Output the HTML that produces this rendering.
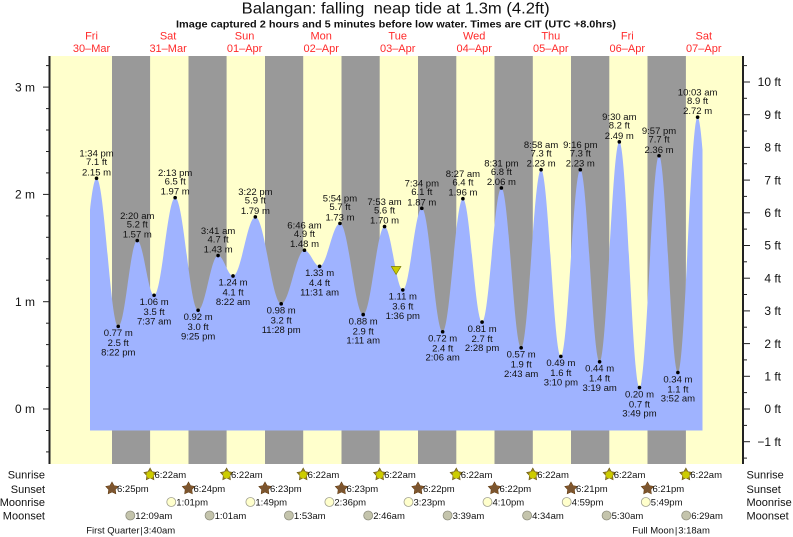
<!DOCTYPE html>
<html><head><meta charset="utf-8"><style>
html,body{margin:0;padding:0;background:#fff;}
svg{display:block;font-family:"Liberation Sans",Arial,sans-serif;}
.tl{font-size:9.5px;fill:#111;text-anchor:middle;}
.ax{font-size:12px;fill:#111;}
.ev{font-size:9.5px;fill:#111;}
.rl{font-size:11px;fill:#111;}
.day{font-size:11px;fill:#ff2a2a;text-anchor:middle;}
</style></head><body>
<svg width="793" height="537" viewBox="0 0 793 537" xmlns="http://www.w3.org/2000/svg">
<defs>
<g id="star"><polygon points="0,-6.5 2.06,-2.83 6.18,-2.01 3.33,1.08 3.82,5.26 0,3.5 -3.82,5.26 -3.33,1.08 -6.18,-2.01 -2.06,-2.83"/></g>
</defs>
<rect width="793" height="537" fill="#fff"/>
<text x="395.7" y="13.5" text-anchor="middle" style="font-size:16px;fill:#111;white-space:pre" textLength="308" lengthAdjust="spacingAndGlyphs">Balangan: falling  neap tide at 1.3m (4.2ft)</text>
<text x="396" y="27.5" text-anchor="middle" style="font-size:10px;font-weight:bold;fill:#111" textLength="440" lengthAdjust="spacingAndGlyphs">Image captured 2 hours and 5 minutes before low water. Times are CIT (UTC +8.0hrs)</text>

<text class="day" x="91.5" y="39.5">Fri</text><text class="day" x="91.5" y="52">30–Mar</text>
<text class="day" x="168.1" y="39.5">Sat</text><text class="day" x="168.1" y="52">31–Mar</text>
<text class="day" x="244.6" y="39.5">Sun</text><text class="day" x="244.6" y="52">01–Apr</text>
<text class="day" x="321.2" y="39.5">Mon</text><text class="day" x="321.2" y="52">02–Apr</text>
<text class="day" x="397.7" y="39.5">Tue</text><text class="day" x="397.7" y="52">03–Apr</text>
<text class="day" x="474.2" y="39.5">Wed</text><text class="day" x="474.2" y="52">04–Apr</text>
<text class="day" x="550.8" y="39.5">Thu</text><text class="day" x="550.8" y="52">05–Apr</text>
<text class="day" x="627.3" y="39.5">Fri</text><text class="day" x="627.3" y="52">06–Apr</text>
<text class="day" x="703.8" y="39.5">Sat</text><text class="day" x="703.8" y="52">07–Apr</text>

<!-- plot background -->
<rect x="50" y="56" width="693" height="408" fill="#ffffcc"/>
<g fill="#999999">
<rect x="112.0" y="56" width="38.1" height="408"/>
<rect x="188.5" y="56" width="38.1" height="408"/>
<rect x="265.0" y="56" width="38.2" height="408"/>
<rect x="341.5" y="56" width="38.2" height="408"/>
<rect x="418.0" y="56" width="38.3" height="408"/>
<rect x="494.5" y="56" width="38.3" height="408"/>
<rect x="571.0" y="56" width="38.3" height="408"/>
<rect x="647.5" y="56" width="38.4" height="408"/>
</g>

<!-- tide fill -->
<path fill="#9fb3ff" d="M90,430.5 L90,210 C92.17,190.6 94.33,178.3 96.53,178.3
C104.41,178.3 110.34,326.38 118.22,326.38
C125.14,326.38 130.33,240.54 137.25,240.54
C143.37,240.54 147.98,295.26 154.10,295.26
C161.75,295.26 167.49,197.62 175.14,197.62
C183.48,197.62 189.76,310.28 198.10,310.28
C205.36,310.28 210.83,255.56 218.09,255.56
C223.52,255.56 227.59,275.95 233.02,275.95
C241.13,275.95 247.24,216.93 255.35,216.93
C264.74,216.93 271.79,303.85 281.18,303.85
C289.64,303.85 296.00,250.20 304.46,250.20
C309.97,250.20 314.10,266.29 319.61,266.29
C327.01,266.29 332.56,223.37 339.96,223.37
C348.40,223.37 354.75,314.58 363.19,314.58
C370.95,314.58 376.79,226.59 384.55,226.59
C391.18,226.59 396.16,289.90 402.79,289.90
C409.70,289.90 414.90,208.35 421.81,208.35
C429.38,208.35 435.08,331.74 442.65,331.74
C450.01,331.74 455.54,198.69 462.90,198.69
C469.87,198.69 475.11,322.09 482.08,322.09
C489.09,322.09 494.37,187.96 501.38,187.96
C508.56,187.96 513.97,347.84 521.15,347.84
C528.39,347.84 533.84,169.72 541.08,169.72
C548.26,169.72 553.67,356.42 560.85,356.42
C567.92,356.42 573.24,169.72 580.31,169.72
C587.32,169.72 592.59,361.79 599.60,361.79
C606.77,361.79 612.15,141.82 619.32,141.82
C626.64,141.82 632.14,387.54 639.46,387.54
C646.57,387.54 651.91,155.77 659.02,155.77
C665.88,155.77 671.03,372.52 677.89,372.52
C685.06,372.52 690.44,117.14 697.61,117.14
C699.2,117.14 700.9,130.2 702.5,150
L702.5,430.5 Z"/>

<!-- current marker -->
<polygon points="391.3,266.5 400.9,266.5 396.1,274.5" fill="#cccc00" stroke="#7a7a00" stroke-width="0.7"/>

<!-- high labels -->
<g class="tl">
<g transform="translate(96.53,178.3)"><circle r="1.8" fill="#000"/><text y="-21.7">1:34 pm</text><text y="-13.2">7.1 ft</text><text y="-3">2.15 m</text></g>
<g transform="translate(137.25,240.54)"><circle r="1.8" fill="#000"/><text y="-21.7">2:20 am</text><text y="-13.2">5.2 ft</text><text y="-3">1.57 m</text></g>
<g transform="translate(175.14,197.62)"><circle r="1.8" fill="#000"/><text y="-21.7">2:13 pm</text><text y="-13.2">6.5 ft</text><text y="-3">1.97 m</text></g>
<g transform="translate(218.09,255.56)"><circle r="1.8" fill="#000"/><text y="-21.7">3:41 am</text><text y="-13.2">4.7 ft</text><text y="-3">1.43 m</text></g>
<g transform="translate(255.35,216.93)"><circle r="1.8" fill="#000"/><text y="-21.7">3:22 pm</text><text y="-13.2">5.9 ft</text><text y="-3">1.79 m</text></g>
<g transform="translate(304.46,250.20)"><circle r="1.8" fill="#000"/><text y="-21.7">6:46 am</text><text y="-13.2">4.9 ft</text><text y="-3">1.48 m</text></g>
<g transform="translate(339.96,223.37)"><circle r="1.8" fill="#000"/><text y="-21.7">5:54 pm</text><text y="-13.2">5.7 ft</text><text y="-3">1.73 m</text></g>
<g transform="translate(384.55,226.59)"><circle r="1.8" fill="#000"/><text y="-21.7">7:53 am</text><text y="-13.2">5.6 ft</text><text y="-3">1.70 m</text></g>
<g transform="translate(421.81,208.35)"><circle r="1.8" fill="#000"/><text y="-21.7">7:34 pm</text><text y="-13.2">6.1 ft</text><text y="-3">1.87 m</text></g>
<g transform="translate(462.90,198.69)"><circle r="1.8" fill="#000"/><text y="-21.7">8:27 am</text><text y="-13.2">6.4 ft</text><text y="-3">1.96 m</text></g>
<g transform="translate(501.38,187.96)"><circle r="1.8" fill="#000"/><text y="-21.7">8:31 pm</text><text y="-13.2">6.8 ft</text><text y="-3">2.06 m</text></g>
<g transform="translate(541.08,169.72)"><circle r="1.8" fill="#000"/><text y="-21.7">8:58 am</text><text y="-13.2">7.3 ft</text><text y="-3">2.23 m</text></g>
<g transform="translate(580.31,169.72)"><circle r="1.8" fill="#000"/><text y="-21.7">9:16 pm</text><text y="-13.2">7.3 ft</text><text y="-3">2.23 m</text></g>
<g transform="translate(619.32,141.82)"><circle r="1.8" fill="#000"/><text y="-21.7">9:30 am</text><text y="-13.2">8.2 ft</text><text y="-3">2.49 m</text></g>
<g transform="translate(659.02,155.77)"><circle r="1.8" fill="#000"/><text y="-21.7">9:57 pm</text><text y="-13.2">7.7 ft</text><text y="-3">2.36 m</text></g>
<g transform="translate(697.61,117.14)"><circle r="1.8" fill="#000"/><text y="-21.7">10:03 am</text><text y="-13.2">8.9 ft</text><text y="-3">2.72 m</text></g>
</g>
<!-- low labels -->
<g class="tl">
<g transform="translate(118.22,326.38)"><circle r="1.8" fill="#000"/><text y="9.8">0.77 m</text><text y="19.8">2.5 ft</text><text y="29">8:22 pm</text></g>
<g transform="translate(154.10,295.26)"><circle r="1.8" fill="#000"/><text y="9.8">1.06 m</text><text y="19.8">3.5 ft</text><text y="29">7:37 am</text></g>
<g transform="translate(198.10,310.28)"><circle r="1.8" fill="#000"/><text y="9.8">0.92 m</text><text y="19.8">3.0 ft</text><text y="29">9:25 pm</text></g>
<g transform="translate(233.02,275.95)"><circle r="1.8" fill="#000"/><text y="9.8">1.24 m</text><text y="19.8">4.1 ft</text><text y="29">8:22 am</text></g>
<g transform="translate(281.18,303.85)"><circle r="1.8" fill="#000"/><text y="9.8">0.98 m</text><text y="19.8">3.2 ft</text><text y="29">11:28 pm</text></g>
<g transform="translate(319.61,266.29)"><circle r="1.8" fill="#000"/><text y="9.8">1.33 m</text><text y="19.8">4.4 ft</text><text y="29">11:31 am</text></g>
<g transform="translate(363.19,314.58)"><circle r="1.8" fill="#000"/><text y="9.8">0.88 m</text><text y="19.8">2.9 ft</text><text y="29">1:11 am</text></g>
<g transform="translate(402.79,289.90)"><circle r="1.8" fill="#000"/><text y="9.8">1.11 m</text><text y="19.8">3.6 ft</text><text y="29">1:36 pm</text></g>
<g transform="translate(442.65,331.74)"><circle r="1.8" fill="#000"/><text y="9.8">0.72 m</text><text y="19.8">2.4 ft</text><text y="29">2:06 am</text></g>
<g transform="translate(482.08,322.09)"><circle r="1.8" fill="#000"/><text y="9.8">0.81 m</text><text y="19.8">2.7 ft</text><text y="29">2:28 pm</text></g>
<g transform="translate(521.15,347.84)"><circle r="1.8" fill="#000"/><text y="9.8">0.57 m</text><text y="19.8">1.9 ft</text><text y="29">2:43 am</text></g>
<g transform="translate(560.85,356.42)"><circle r="1.8" fill="#000"/><text y="9.8">0.49 m</text><text y="19.8">1.6 ft</text><text y="29">3:10 pm</text></g>
<g transform="translate(599.60,361.79)"><circle r="1.8" fill="#000"/><text y="9.8">0.44 m</text><text y="19.8">1.4 ft</text><text y="29">3:19 am</text></g>
<g transform="translate(639.46,387.54)"><circle r="1.8" fill="#000"/><text y="9.8">0.20 m</text><text y="19.8">0.7 ft</text><text y="29">3:49 pm</text></g>
<g transform="translate(677.89,372.52)"><circle r="1.8" fill="#000"/><text y="9.8">0.34 m</text><text y="19.8">1.1 ft</text><text y="29">3:52 am</text></g>
</g>

<!-- axes -->
<line x1="49.5" y1="56" x2="49.5" y2="464" stroke="#222" stroke-width="2"/>
<line x1="743" y1="56" x2="743" y2="464" stroke="#222" stroke-width="2"/>
<g stroke="#222" stroke-width="1">
<line x1="46" x2="49" y1="451.9" y2="451.9"/><line x1="46" x2="49" y1="430.5" y2="430.5"/>
<line x1="43" x2="49" y1="409" y2="409"/>
<line x1="46" x2="49" y1="387.5" y2="387.5"/><line x1="46" x2="49" y1="366.1" y2="366.1"/>
<line x1="46" x2="49" y1="344.6" y2="344.6"/><line x1="46" x2="49" y1="323.2" y2="323.2"/>
<line x1="43" x2="49" y1="301.7" y2="301.7"/>
<line x1="46" x2="49" y1="280.2" y2="280.2"/><line x1="46" x2="49" y1="258.8" y2="258.8"/>
<line x1="46" x2="49" y1="237.3" y2="237.3"/><line x1="46" x2="49" y1="215.9" y2="215.9"/>
<line x1="43" x2="49" y1="194.4" y2="194.4"/>
<line x1="46" x2="49" y1="172.9" y2="172.9"/><line x1="46" x2="49" y1="151.5" y2="151.5"/>
<line x1="46" x2="49" y1="130" y2="130"/><line x1="46" x2="49" y1="108.6" y2="108.6"/>
<line x1="43" x2="49" y1="87.1" y2="87.1"/>
<line x1="46" x2="49" y1="65.6" y2="65.6"/>

<line x1="744" x2="747" y1="458.1" y2="458.1"/>
<line x1="744" x2="750" y1="441.7" y2="441.7"/>
<line x1="744" x2="747" y1="425.4" y2="425.4"/>
<line x1="744" x2="750" y1="409" y2="409"/>
<line x1="744" x2="747" y1="392.6" y2="392.6"/>
<line x1="744" x2="750" y1="376.3" y2="376.3"/>
<line x1="744" x2="747" y1="359.9" y2="359.9"/>
<line x1="744" x2="750" y1="343.6" y2="343.6"/>
<line x1="744" x2="747" y1="327.2" y2="327.2"/>
<line x1="744" x2="750" y1="310.9" y2="310.9"/>
<line x1="744" x2="747" y1="294.5" y2="294.5"/>
<line x1="744" x2="750" y1="278.2" y2="278.2"/>
<line x1="744" x2="747" y1="261.8" y2="261.8"/>
<line x1="744" x2="750" y1="245.5" y2="245.5"/>
<line x1="744" x2="747" y1="229.1" y2="229.1"/>
<line x1="744" x2="750" y1="212.8" y2="212.8"/>
<line x1="744" x2="747" y1="196.4" y2="196.4"/>
<line x1="744" x2="750" y1="180.1" y2="180.1"/>
<line x1="744" x2="747" y1="163.7" y2="163.7"/>
<line x1="744" x2="750" y1="147.4" y2="147.4"/>
<line x1="744" x2="747" y1="131" y2="131"/>
<line x1="744" x2="750" y1="114.7" y2="114.7"/>
<line x1="744" x2="747" y1="98.3" y2="98.3"/>
<line x1="744" x2="750" y1="82" y2="82"/>
<line x1="744" x2="747" y1="65.6" y2="65.6"/>
</g>
<g class="ax" text-anchor="end">
<text x="35" y="91.3">3 m</text>
<text x="35" y="198.6">2 m</text>
<text x="35" y="305.9">1 m</text>
<text x="35" y="413.2">0 m</text>
</g>
<g class="ax" text-anchor="end">
<text x="781" y="86.2">10 ft</text>
<text x="781" y="118.9">9 ft</text>
<text x="781" y="151.6">8 ft</text>
<text x="781" y="184.3">7 ft</text>
<text x="781" y="217">6 ft</text>
<text x="781" y="249.7">5 ft</text>
<text x="781" y="282.4">4 ft</text>
<text x="781" y="315.1">3 ft</text>
<text x="781" y="347.8">2 ft</text>
<text x="781" y="380.5">1 ft</text>
<text x="781" y="413.2">0 ft</text>
<text x="781" y="445.9">−1 ft</text>
</g>

<!-- bottom legend -->
<g class="rl" text-anchor="end">
<text x="45" y="478.5">Sunrise</text>
<text x="45" y="492.8">Sunset</text>
<text x="45" y="506">Moonrise</text>
<text x="45" y="519.5">Moonset</text>
</g>
<g class="rl">
<text x="746.5" y="478.5">Sunrise</text>
<text x="746.5" y="492.8">Sunset</text>
<text x="746.5" y="506">Moonrise</text>
<text x="746.5" y="519.5">Moonset</text>
</g>

<!-- sunrise -->
<g>
<g fill="#9a8420" stroke="#6b5a10" stroke-width="0.6">
<use href="#star" x="150.1" y="474.5"/><use href="#star" x="226.6" y="474.5"/><use href="#star" x="303.2" y="474.5"/><use href="#star" x="379.7" y="474.5"/><use href="#star" x="456.3" y="474.5"/><use href="#star" x="532.8" y="474.5"/><use href="#star" x="609.3" y="474.5"/><use href="#star" x="685.9" y="474.5"/>
</g>
<g fill="#cccc00">
<circle cx="150.1" cy="474.8" r="3.6"/><circle cx="226.6" cy="474.8" r="3.6"/><circle cx="303.2" cy="474.8" r="3.6"/><circle cx="379.7" cy="474.8" r="3.6"/><circle cx="456.3" cy="474.8" r="3.6"/><circle cx="532.8" cy="474.8" r="3.6"/><circle cx="609.3" cy="474.8" r="3.6"/><circle cx="685.9" cy="474.8" r="3.6"/>
</g>
<g class="ev">
<text x="154.5" y="478">6:22am</text><text x="231" y="478">6:22am</text><text x="307.6" y="478">6:22am</text><text x="384.1" y="478">6:22am</text><text x="460.7" y="478">6:22am</text><text x="537.2" y="478">6:22am</text><text x="613.7" y="478">6:22am</text><text x="690.3" y="478">6:22am</text>
</g>
</g>
<!-- sunset -->
<g>
<g fill="#8b5a2b" stroke="#5a3a15" stroke-width="0.6">
<use href="#star" x="112" y="488.5"/><use href="#star" x="188.5" y="488.5"/><use href="#star" x="265" y="488.5"/><use href="#star" x="341.5" y="488.5"/><use href="#star" x="418" y="488.5"/><use href="#star" x="494.5" y="488.5"/><use href="#star" x="571" y="488.5"/><use href="#star" x="647.5" y="488.5"/>
</g>
<g fill="#7a5530">
<circle cx="112" cy="488.8" r="3.4"/><circle cx="188.5" cy="488.8" r="3.4"/><circle cx="265" cy="488.8" r="3.4"/><circle cx="341.5" cy="488.8" r="3.4"/><circle cx="418" cy="488.8" r="3.4"/><circle cx="494.5" cy="488.8" r="3.4"/><circle cx="571" cy="488.8" r="3.4"/><circle cx="647.5" cy="488.8" r="3.4"/>
</g>
<g class="ev">
<text x="117" y="492">6:25pm</text><text x="193.5" y="492">6:24pm</text><text x="270" y="492">6:23pm</text><text x="346.5" y="492">6:23pm</text><text x="423" y="492">6:22pm</text><text x="499.5" y="492">6:22pm</text><text x="576" y="492">6:21pm</text><text x="652.5" y="492">6:21pm</text>
</g>
</g>
<!-- moonrise -->
<g fill="#ffffcc" stroke="#a0a090" stroke-width="0.8">
<circle cx="171.3" cy="502" r="4.5"/><circle cx="250.4" cy="502" r="4.5"/><circle cx="329.4" cy="502" r="4.5"/><circle cx="408.5" cy="502" r="4.5"/><circle cx="487.5" cy="502" r="4.5"/><circle cx="566.7" cy="502" r="4.5"/><circle cx="645.8" cy="502" r="4.5"/>
</g>
<g class="ev">
<text x="176.3" y="505.5">1:01pm</text><text x="255.4" y="505.5">1:49pm</text><text x="334.4" y="505.5">2:36pm</text><text x="413.5" y="505.5">3:23pm</text><text x="492.5" y="505.5">4:10pm</text><text x="571.7" y="505.5">4:59pm</text><text x="650.8" y="505.5">5:49pm</text>
</g>
<!-- moonset -->
<g fill="#c4c4ac" stroke="#909080" stroke-width="0.8">
<circle cx="130.3" cy="515.5" r="4.5"/><circle cx="209.6" cy="515.5" r="4.5"/><circle cx="288.9" cy="515.5" r="4.5"/><circle cx="368.2" cy="515.5" r="4.5"/><circle cx="447.6" cy="515.5" r="4.5"/><circle cx="527.1" cy="515.5" r="4.5"/><circle cx="606.6" cy="515.5" r="4.5"/><circle cx="686.2" cy="515.5" r="4.5"/>
</g>
<g class="ev">
<text x="135.3" y="519">12:09am</text><text x="214.6" y="519">1:01am</text><text x="293.9" y="519">1:53am</text><text x="373.2" y="519">2:46am</text><text x="452.6" y="519">3:39am</text><text x="532.1" y="519">4:34am</text><text x="611.6" y="519">5:30am</text><text x="691.2" y="519">6:29am</text>
</g>
<!-- moon phases -->
<g class="ev">
<text x="139.5" y="533.5" text-anchor="end">First Quarter</text>
<text x="141.5" y="533.5" text-anchor="middle">|</text>
<text x="143.5" y="533.5">3:40am</text>
<text x="674" y="533.5" text-anchor="end">Full Moon</text>
<text x="676.1" y="533.5" text-anchor="middle">|</text>
<text x="678.2" y="533.5">3:18am</text>
</g>
</svg>
</body></html>
